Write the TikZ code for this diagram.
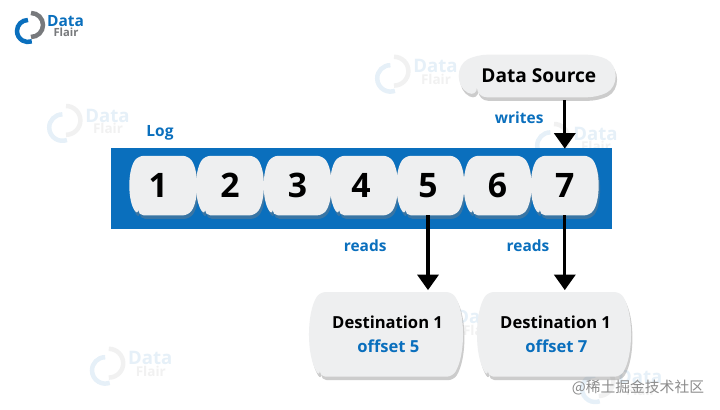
\documentclass[tikz,border=0pt]{standalone}
\usepackage{fontspec}
\setmainfont{Open Sans}
\newfontfamily\cjkfont{Noto Sans CJK SC}
\usetikzlibrary{arrows.meta}
\usetikzlibrary{shadows}
\definecolor{dfblue}{HTML}{0A6FBD}
\definecolor{dfgray}{HTML}{77797C}
\definecolor{boxgray}{HTML}{EEEFF0}
% box with bulging sides
\newdimen\brxa \newdimen\brxb \newdimen\brya \newdimen\bryb
\newdimen\brb \newdimen\brcl \newdimen\brch
\makeatletter
\pgfdeclareshape{barrelbox}{
  \inheritsavedanchors[from=rectangle]
  \inheritanchorborder[from=rectangle]
  \inheritanchor[from=rectangle]{center}
  \inheritanchor[from=rectangle]{north}
  \inheritanchor[from=rectangle]{south}
  \inheritanchor[from=rectangle]{east}
  \inheritanchor[from=rectangle]{west}
  \backgroundpath{
    \southwest \brxa=\pgf@x \brya=\pgf@y
    \northeast \brxb=\pgf@x \bryb=\pgf@y
    \pgfmathsetlength\brb{\barrelbulge}
    \brcl=\dimexpr\brya+(\bryb-\brya)/4\relax
    \brch=\dimexpr\bryb-(\bryb-\brya)/4\relax
    \pgfpathmoveto{\pgfqpoint{\dimexpr\brxa+\brb}{\brya}}
    \pgfpathlineto{\pgfqpoint{\dimexpr\brxb-\brb}{\brya}}
    \pgfpathcurveto{\pgfqpoint{\dimexpr\brxb+\brb/3}{\brcl}}
      {\pgfqpoint{\dimexpr\brxb+\brb/3}{\brch}}
      {\pgfqpoint{\dimexpr\brxb-\brb}{\bryb}}
    \pgfpathlineto{\pgfqpoint{\dimexpr\brxa+\brb}{\bryb}}
    \pgfpathcurveto{\pgfqpoint{\dimexpr\brxa-\brb/3}{\brch}}
      {\pgfqpoint{\dimexpr\brxa-\brb/3}{\brcl}}
      {\pgfqpoint{\dimexpr\brxa+\brb}{\brya}}
    \pgfpathclose
  }
}
\makeatother
\tikzset{
  barrel bulge/.store in=\barrelbulge, barrel bulge=0.2cm,
  barrel/.style={shape=barrelbox, fill=boxgray, inner sep=0pt, rounded corners=4pt,
    drop shadow={shadow xshift=1pt, shadow yshift=-2.5pt, opacity=0.4}},
  numbox/.style={barrel, barrel bulge=0.2cm, minimum width=1.64cm, minimum height=1.475cm,
    font=\bfseries\fontsize{24}{24}\selectfont},
  destbox/.style={barrel, barrel bulge=0.25cm, minimum width=3.8cm, minimum height=2.1cm, align=center,
    font=\bfseries\fontsize{11.8}{14}\selectfont},
  bluetext/.style={text=dfblue, font=\bfseries\fontsize{11}{13}\selectfont},
  flow/.style={line width=2.2pt, -{Triangle[width=15pt, length=11pt]}},
}
% logo with its two words
\newcommand{\dflogo}[5]{
  \begin{scope}[shift={(#2,#3)}, opacity=#4, scale=#5, transform shape]
    \draw[dfgray, line width=3.2pt] (-0.025,-0.225) arc (-90:90:0.3);
    \draw[dfblue, line width=3.2pt] (-0.1,0.2) arc (90:290:0.275);
    \node[text=dfblue, inner sep=0pt, font=\bfseries\fontsize{11}{11}\selectfont] (#1data) at (0.84,0.175) {Data};
    \node[text=dfgray, inner sep=0pt, font=\bfseries\fontsize{8}{8}\selectfont] (#1flair) at (0.85,-0.1) {Flair};
  \end{scope}
}
\begin{document}
\begin{tikzpicture}
\useasboundingbox (0,0) rectangle (18,10.25);
\fill[white] (0,0) rectangle (18,10.25);
% watermarks
\dflogo{wa}{1.68}{7.15}{0.1}{1.2}
\dflogo{wb}{9.88}{8.38}{0.1}{1.2}
\dflogo{wc}{13.88}{6.7}{0.1}{1.2}
\dflogo{wd}{2.75}{1.08}{0.1}{1.2}
\dflogo{we}{10.93}{2.12}{0.1}{1.2}
\dflogo{wf}{15}{0.62}{0.1}{1.2}
\dflogo{main}{0.8}{9.55}{1}{1}
% log bar
\node[fill=dfblue, minimum width=12.525cm, minimum height=2.025cm, inner sep=0pt] (bar) at (9.04,5.54) {};
\node[numbox] (n1) at (4.08,5.61) {\hspace{-0.25cm}1};
\node[numbox] (n2) at (5.75,5.61) {2};
\node[numbox] (n3) at (7.44,5.61) {3};
\node[numbox] (n4) at (9.10,5.61) {\hspace{-0.15cm}4};
\node[numbox] (n5) at (10.76,5.61) {\hspace{-0.12cm}5};
\node[numbox] (n6) at (12.44,5.61) {6};
\node[numbox] (n7) at (14.12,5.61) {7};
% source and destinations
\node[destbox, barrel bulge=0.4cm, minimum height=1.05cm, rounded corners=7pt, font=\bfseries\fontsize{13.6}{14}\selectfont] (src) at (13.43,8.35) {\hspace{0.08cm}Data Source};
\node[destbox] (dst5) at (9.65,1.89) {\hspace{0.08cm}Destination 1\\[3pt]\hspace{0.12cm}\textcolor{dfblue}{offset 5}};
\node[destbox] (dst7) at (13.85,1.89) {\hspace{0.08cm}Destination 1\\[3pt]\hspace{0.12cm}\textcolor{dfblue}{offset 7}};
% connectors
\coordinate (out5) at ([xshift=-0.06cm]n5.south);
\draw[flow, shorten <=2pt, shorten >=0.18cm] (src.south -| n7.north) -- (n7.north);
\draw[flow] (out5) -- ([yshift=0.05cm]out5 |- dst5.north);
\draw[flow] (n7.south) -- ([yshift=0.05cm]n7.south |- dst7.north);
% labels
\node[bluetext] (log) at (4.0,6.93) {Log};
\node[bluetext] (writes) at (12.98,7.3) {writes};
\node[bluetext] (reads5) at (9.13,4.1) {reads};
\node[bluetext] (reads7) at (13.2,4.1) {reads};
\node[text=black!45, font=\cjkfont\fontsize{10.5}{10.5}\selectfont] (credit) at (15.95,0.55) {@稀土掘金技术社区};
\end{tikzpicture}
\end{document}
